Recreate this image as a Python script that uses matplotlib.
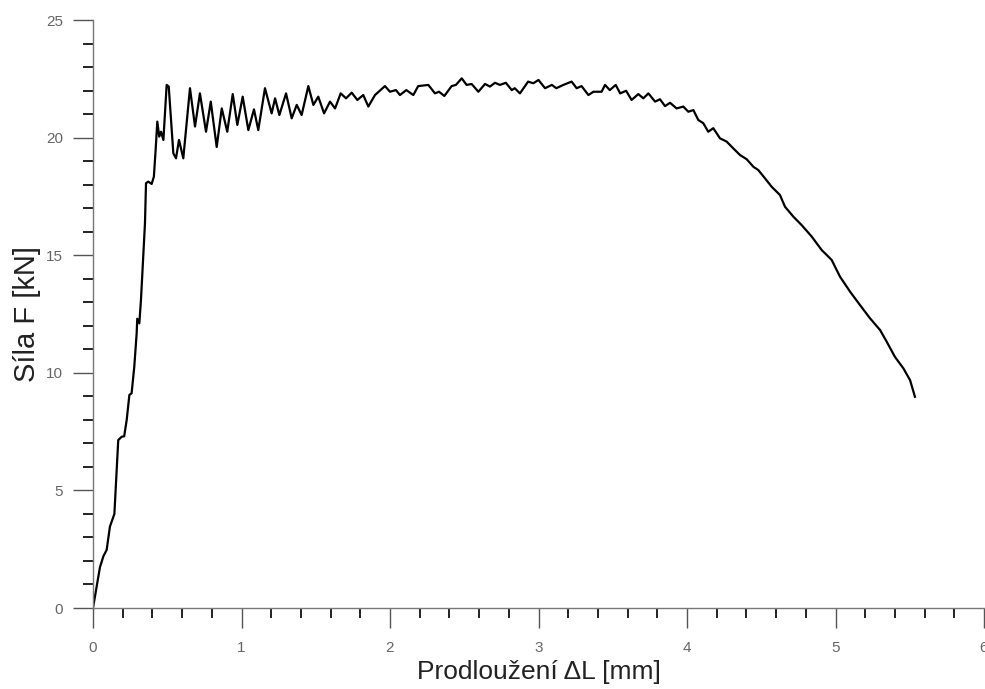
import matplotlib.pyplot as plt
from matplotlib.ticker import MultipleLocator

# prodlouzeni [mm] a sila [kN]
dl = [0.0, 0.047, 0.07, 0.092, 0.114, 0.144, 0.155, 0.17, 0.193, 0.21, 0.227,
      0.245, 0.26, 0.278, 0.294, 0.298, 0.312, 0.323, 0.339, 0.35, 0.357,
      0.372, 0.395, 0.41, 0.422, 0.433, 0.446, 0.458, 0.474, 0.496, 0.51,
      0.541, 0.559, 0.579, 0.608, 0.653, 0.687, 0.72, 0.761, 0.793, 0.833,
      0.867, 0.904, 0.941, 0.972, 1.008, 1.046, 1.084, 1.113, 1.158, 1.203,
      1.226, 1.255, 1.3, 1.338, 1.372, 1.405, 1.45, 1.484, 1.517, 1.556,
      1.596, 1.63, 1.668, 1.704, 1.742, 1.78, 1.82, 1.854, 1.899, 1.966,
      2.0, 2.04, 2.067, 2.11, 2.157, 2.19, 2.258, 2.303, 2.33, 2.366,
      2.415, 2.444, 2.483, 2.516, 2.55, 2.595, 2.64, 2.673, 2.707, 2.74,
      2.78, 2.82, 2.84, 2.875, 2.93, 2.965, 3.0, 3.044, 3.09, 3.12, 3.167,
      3.223, 3.257, 3.29, 3.336, 3.37, 3.425, 3.448, 3.48, 3.52, 3.55,
      3.59, 3.627, 3.672, 3.706, 3.74, 3.785, 3.818, 3.852, 3.886, 3.93,
      3.975, 4.009, 4.043, 4.076, 4.11, 4.143, 4.177, 4.222, 4.267, 4.312,
      4.357, 4.402, 4.447, 4.48, 4.525, 4.57, 4.626, 4.66, 4.716, 4.772,
      4.84, 4.907, 4.974, 5.03, 5.098, 5.165, 5.232, 5.3, 5.345, 5.4,
      5.457, 5.502, 5.535]
F = [0.0, 1.74, 2.2, 2.47, 3.46, 4.0, 5.3, 7.14, 7.28, 7.3, 8.0,
     9.06, 9.13, 10.26, 11.68, 12.3, 12.1, 13.1, 15.08, 16.36, 18.06,
     18.13, 18.03, 18.34, 19.5, 20.68, 20.04, 20.25, 19.9, 22.24, 22.17,
     19.33, 19.12, 19.9, 19.12, 22.1, 20.47, 21.88, 20.25, 21.53, 19.6,
     21.24, 20.25, 21.85, 20.54, 21.74, 20.32, 21.2, 20.32, 22.1, 21.03,
     21.67, 20.96, 21.88, 20.82, 21.39, 20.96, 22.19, 21.39, 21.74, 21.03,
     21.53, 21.24, 21.88, 21.67, 21.91, 21.6, 21.81, 21.32, 21.81, 22.19,
     21.95, 22.02, 21.81, 22.02, 21.81, 22.19, 22.24, 21.88, 21.95, 21.77,
     22.19, 22.24, 22.52, 22.24, 22.28, 21.95, 22.28, 22.17, 22.33, 22.24,
     22.33, 22.02, 22.1, 21.88, 22.38, 22.31, 22.45, 22.1, 22.24, 22.1, 22.24,
     22.38, 22.1, 22.19, 21.81, 21.95, 21.95, 22.24, 22.02, 22.24, 21.88,
     21.99, 21.6, 21.85, 21.67, 21.88, 21.53, 21.63, 21.34, 21.48, 21.24,
     21.32, 21.1, 21.17, 20.75, 20.61, 20.25, 20.4, 19.97, 19.83, 19.54,
     19.26, 19.08, 18.76, 18.62, 18.27, 17.91, 17.56, 17.06, 16.64, 16.28,
     15.79, 15.22, 14.8, 14.09, 13.45, 12.88, 12.32, 11.82, 11.32, 10.68,
     10.19, 9.69, 8.98]

plt.rcParams['font.family'] = ['Liberation Sans', 'DejaVu Sans']

fig = plt.figure(figsize=(9.85, 6.89), dpi=100)
ax = fig.add_axes([93 / 985, 81 / 689, 891 / 985, 588 / 689])
ax.plot(dl, F, color='black', lw=1.6)

ax.set_xlim(0, 6)
ax.set_ylim(0, 25)
ax.xaxis.set_major_locator(MultipleLocator(1))
ax.xaxis.set_minor_locator(MultipleLocator(0.2))
ax.yaxis.set_major_locator(MultipleLocator(5))
ax.yaxis.set_minor_locator(MultipleLocator(1))

for s in ['top', 'right']:
    ax.spines[s].set_visible(False)
for s in ['left', 'bottom']:
    ax.spines[s].set_color('#777777')
    ax.spines[s].set_linewidth(1.0)

ax.tick_params(which='major', direction='out', length=14.4, width=1.0,
               color='#555555', labelsize=11, labelcolor='#666666')
ax.tick_params(axis='x', which='major', pad=9)
ax.tick_params(axis='y', which='major', pad=7)
ax.tick_params(which='minor', direction='out', length=7.2, width=1.4,
               color='#222222')

ax.set_xlabel('Prodloužení ΔL [mm]', fontsize=19, color='#222222', labelpad=4)
ax.set_ylabel('Síla F [kN]', fontsize=21, color='#222222', labelpad=4)

fig.savefig('out.png', dpi=100)
